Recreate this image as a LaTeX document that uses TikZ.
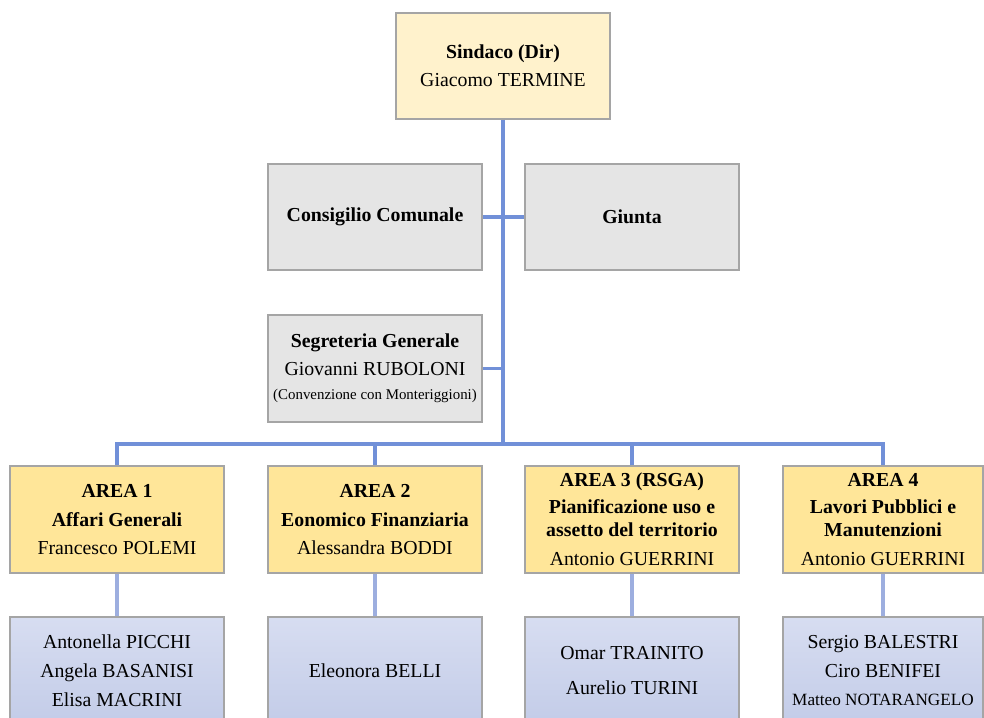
\documentclass[tikz,border=0pt]{standalone}
\usepackage{fontspec}
\setmainfont{Liberation Serif}
\definecolor{chiefcol}{HTML}{FFF2CC}
\definecolor{organcol}{HTML}{E5E5E5}
\definecolor{areacol}{HTML}{FFE699}
\definecolor{stafftop}{HTML}{D7DDF1}
\definecolor{staffbot}{HTML}{C3CCE8}
\definecolor{linkcol}{HTML}{7190D8}
\definecolor{linklight}{HTML}{9DAEDF}
\definecolor{edgecol}{HTML}{A5A5A5}

\begin{document}
\begin{tikzpicture}[x=1pt,y=-1pt,
    box/.style={draw=edgecol,line width=1.2pt,minimum width=214pt,minimum height=106pt,
      inner sep=0pt,align=center,font=\fontsize{19.8}{23}\selectfont},
    chief/.style={box,fill=chiefcol},
    organ/.style={box,fill=organcol},
    area/.style={box,fill=areacol,minimum height=107pt},
    staff/.style={box,minimum height=107pt,top color=stafftop,bottom color=staffbot},
    link/.style={draw=linkcol,line width=3.4pt},
    sublink/.style={draw=linklight,line width=3.4pt}]
\useasboundingbox (0,0) rectangle (984,717);
\clip (0,0) rectangle (984,717);

\begin{scope}
    \node[chief] (sindaco) at (503,66) {\textbf{Sindaco (Dir)}\\[5pt]Giacomo TERMINE};
    \node[organ] (consiglio) at (375,217) {\textbf{Consigilio Comunale}};
    \node[organ] (giunta) at (632,217) {\textbf{Giunta}};
    \node[organ,minimum height=107pt] (segreteria) at (375,368.5)
        {\textbf{Segreteria Generale}\\[5pt]Giovanni RUBOLONI\\[1pt]{\fontsize{14.9}{17}\selectfont(Convenzione con Monteriggioni)}};
\end{scope}

\begin{scope}
    \node[area] (area1) at (117,519.5) {\textbf{AREA 1}\\[6pt]\textbf{Affari Generali}\\[5pt]Francesco POLEMI};
    \node[area] (area2) at (375,519.5) {\textbf{AREA 2}\\[6pt]\textbf{Eonomico Finanziaria}\\[5pt]Alessandra BODDI};
    \node[area] (area3) at (632,519.5) {\textbf{AREA 3 (RSGA)}\\[4pt]\textbf{Pianificazione uso e}\\\textbf{assetto del territorio}\\[6pt]Antonio GUERRINI};
    \node[area,minimum width=200pt] (area4) at (883,519.5) {\textbf{AREA 4}\\[4pt]\textbf{Lavori Pubblici e}\\\textbf{Manutenzioni}\\[6pt]Antonio GUERRINI};
\end{scope}

\begin{scope}
    \node[staff] (staff1) at (117,670.5) {Antonella PICCHI\\[6pt]Angela BASANISI\\[6pt]Elisa MACRINI};
    \node[staff] (staff2) at (375,670.5) {Eleonora BELLI};
    \node[staff] (staff3) at (632,670.5) {Omar TRAINITO\\[12pt]Aurelio TURINI};
    \node[staff,minimum width=200pt] (staff4) at (883,670.5)
        {Sergio BALESTRI\\[6pt]Ciro BENIFEI\\[5pt]{\fontsize{17.2}{20}\selectfont Matteo NOTARANGELO}};
\end{scope}

\begin{scope}
    \coordinate (hub) at (503,444);
    \path[link] (sindaco.south) edge (hub);
    \path[link] (consiglio.east) edge (giunta.west);
    \path[link] (segreteria.east) edge (segreteria.east -| hub);
    \draw[link] (area1.north) |- (hub) -| (area4.north);
    \path[link] (area2.north) edge (area2.north |- hub);
    \path[link] (area3.north) edge (area3.north |- hub);
    \foreach \i in {1,...,4}
        \path[sublink] (area\i.south) edge (staff\i.north);
\end{scope}
\end{tikzpicture}
\end{document}
